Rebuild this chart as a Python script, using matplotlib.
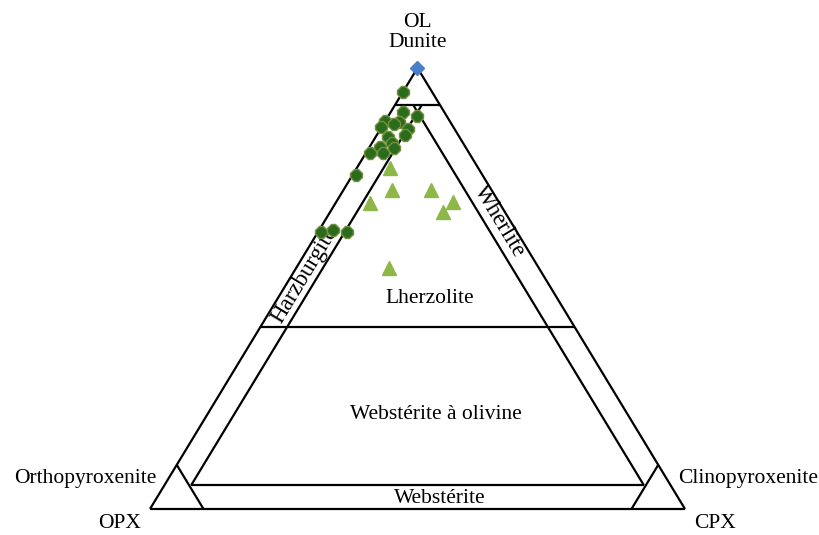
"""Ternary OL-OPX-CPX classification of ultramafic rocks (Streckeisen).

Sample compositions are given in % (OL, OPX, CPX) and projected onto the
triangle with x = CPX + OL/2, y = OL.
"""
import numpy as np
import matplotlib
matplotlib.use("Agg")
import matplotlib.pyplot as plt

# dark green points (OL, OPX, CPX in %)
harz_ol = [94.6, 90.0, 88.0, 87.8, 89.0, 87.3, 86.5, 86.1, 84.4, 84.8,
           82.9, 82.0, 81.9, 80.7, 80.7, 75.7, 62.9, 63.3, 62.8]
harz_opx = [5.4, 7.8, 12.0, 9.5, 5.5, 10.8, 13.5, 8.7, 13.3, 9.9,
            13.4, 16.0, 13.4, 18.5, 16.1, 23.7, 36.5, 34.1, 31.8]
harz_cpx = [0.0, 2.2, 0.0, 2.7, 5.5, 1.9, 0.0, 5.2, 2.3, 5.3,
            3.7, 2.0, 4.7, 0.8, 3.2, 0.6, 0.6, 2.6, 5.4]

# light green triangles
lherz_ol = [77.3, 72.3, 69.3, 72.3, 69.7, 67.4, 54.6]
lherz_opx = [16.5, 18.6, 24.2, 11.4, 8.6, 11.5, 28.0]
lherz_cpx = [6.2, 9.1, 6.5, 16.3, 21.7, 21.1, 17.4]

# blue diamond at the OL apex
dunite_ol = [100.0]
dunite_opx = [0.0]
dunite_cpx = [0.0]

# field boundaries as drawn in the source figure (fractions)
OL_DUNITE = 0.916
OL_LHERZ = 0.413
OL_WEBS = 0.054
PX_MIN = 0.05
PX_MAX = 0.90

FONT = ["Liberation Serif", "DejaVu Serif"]
FS = 15.5


def tern(ol, opx, cpx):
    ol = np.asarray(ol, float)
    opx = np.asarray(opx, float)
    cpx = np.asarray(cpx, float)
    tot = ol + opx + cpx
    return cpx / tot + 0.5 * ol / tot, ol / tot


def seg(ax, a, b):
    xa, ya = tern(*a)
    xb, yb = tern(*b)
    ax.plot([xa, xb], [ya, yb], color="black", lw=1.6,
            solid_capstyle="butt", zorder=2)


fig = plt.figure(figsize=(8.19, 5.35), dpi=100)
ax = fig.add_axes([0, 0, 1, 1])
ax.set_xlim(-0.2804, 1.2505)
ax.set_ylim(-0.059, 1.154)
ax.axis("off")

# outer triangle
OL, OPX, CPX = (1, 0, 0), (0, 1, 0), (0, 0, 1)
seg(ax, OL, OPX)
seg(ax, OPX, CPX)
seg(ax, CPX, OL)

# dunite limit
d = OL_DUNITE
seg(ax, (d, 1 - d, 0), (d, 0, 1 - d))
# harzburgite / lherzolite / wherlite limits (5 % px)
w = OL_WEBS
seg(ax, (d, 1 - d - PX_MIN, PX_MIN), (w, 1 - w - PX_MIN, PX_MIN))
seg(ax, (d, PX_MIN, 1 - d - PX_MIN), (w, PX_MIN, 1 - w - PX_MIN))
# lherzolite / olivine websterite
l = OL_LHERZ
seg(ax, (l, 1 - l, 0), (l, 0, 1 - l))
# websterite limit
seg(ax, (w, 1 - w - PX_MIN, PX_MIN), (w, PX_MIN, 1 - w - PX_MIN))
# orthopyroxenite / clinopyroxenite
r = 1 - PX_MAX
seg(ax, (r, PX_MAX, 0), (0, PX_MAX, r))
seg(ax, (r, 0, PX_MAX), (0, r, PX_MAX))

# samples
x, y = tern(harz_ol, harz_opx, harz_cpx)
ax.plot(x, y, ls="", marker="8", ms=9, color="#2b6b1c",
        mec="#74913f", mew=1.0, zorder=4)
x, y = tern(lherz_ol, lherz_opx, lherz_cpx)
ax.plot(x, y, ls="", marker="^", ms=10.5, color="#8db848",
        mec="#8db848", zorder=4)
x, y = tern(dunite_ol, dunite_opx, dunite_cpx)
ax.plot(x, y, ls="", marker="D", ms=7, color="#4a7ec6",
        mec="#4a7ec6", zorder=5)

# labels
txt = dict(family=FONT, fontsize=FS, color="black")
ax.text(0.5, 1.093, "OL", ha="center", va="baseline", **txt)
ax.text(0.5, 1.048, "Dunite", ha="center", va="baseline", **txt)
ax.text(-0.1215, 0.059, "Orthopyroxenite", ha="center", va="baseline", **txt)
ax.text(1.118, 0.059, "Clinopyroxenite", ha="center", va="baseline", **txt)
ax.text(-0.056, -0.043, "OPX", ha="center", va="baseline", **txt)
ax.text(1.056, -0.043, "CPX", ha="center", va="baseline", **txt)
ax.text(0.523, 0.467, "Lherzolite", ha="center", va="baseline", **txt)
ax.text(0.535, 0.204, "Webstérite à olivine", ha="center", va="baseline", **txt)
ax.text(0.542, 0.0136, "Webstérite", ha="center", va="baseline", **txt)

# rotated labels along the side strips
p0, p1, p2 = ax.transData.transform([[0, 0], [0.5, 1], [1, 0]])
ang_left = np.degrees(np.arctan2(p1[1] - p0[1], p1[0] - p0[0]))
ang_right = np.degrees(np.arctan2(p2[1] - p1[1], p2[0] - p1[0]))
side = dict(txt, fontsize=16.5)
ax.text(0.2879, 0.5306, "Harzburgite", rotation=ang_left,
        rotation_mode="anchor", ha="center", va="center", **side)
ax.text(0.6523, 0.653, "Wherlite", rotation=ang_right,
        rotation_mode="anchor", ha="center", va="center", **side)

fig.savefig("out.png", dpi=100, facecolor="white")
plt.close(fig)
